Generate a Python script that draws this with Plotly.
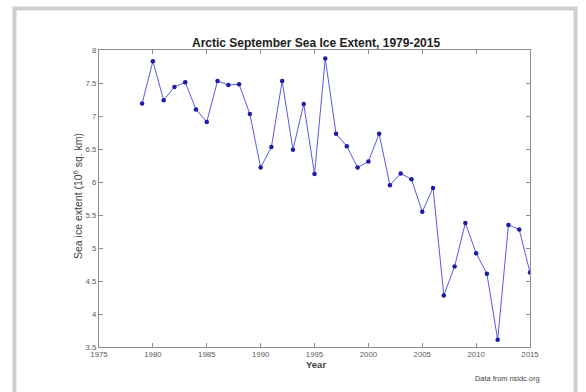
import plotly.graph_objects as go

# Arctic September sea ice extent (million sq. km)
years = list(range(1979, 2016))
extent = [7.19, 7.83, 7.24, 7.44, 7.51, 7.10, 6.91, 7.53, 7.47, 7.48,
          7.03, 6.22, 6.53, 7.53, 6.49, 7.18, 6.12, 7.87, 6.73, 6.54,
          6.22, 6.31, 6.73, 5.95, 6.13, 6.04, 5.55, 5.91, 4.28, 4.72,
          5.38, 4.92, 4.61, 3.61, 5.35, 5.28, 4.63]

x_ticks = [1975, 1980, 1985, 1990, 1995, 2000, 2005, 2010, 2015]
y_ticks = [3.5, 4, 4.5, 5, 5.5, 6, 6.5, 7, 7.5, 8]
y_ticklabels = ["3.5", "4", "4.5", "5", "5.5", "6", "6.5", "7", "7.5", "8"]

W, H = 586, 392
L, R, T, B = 99, 56, 50, 45
PW, PH = W - L - R, H - T - B


def px(x):
    return (x - L) / PW


def py(y):
    return (H - B - y) / PH


FONT = "Liberation Sans, Arial, Helvetica, sans-serif"

fig = go.Figure()
fig.add_trace(go.Scatter(
    x=years, y=extent, mode="lines+markers",
    line=dict(color="#5a5ae6", width=1),
    marker=dict(color="#1c1ca8", size=4.5),
    showlegend=False, hoverinfo="x+y",
))

axis_common = dict(
    showline=True, linecolor="#8c8c8c", linewidth=1, mirror="allticks",
    ticks="inside", ticklen=4, tickcolor="#8c8c8c", tickwidth=1,
    showgrid=False, zeroline=False,
    tickfont=dict(family=FONT, size=7.8, color="#5a5a5a"),
)

fig.update_layout(
    width=W, height=H,
    margin=dict(l=L, r=R, t=T, b=B, pad=0),
    paper_bgcolor="white", plot_bgcolor="white",
    xaxis=dict(range=[1975, 2015], tickvals=x_ticks,
               ticktext=[str(v) for v in x_ticks], **axis_common),
    yaxis=dict(range=[3.5, 8], tickvals=y_ticks, ticktext=y_ticklabels,
               **axis_common),
    shapes=[dict(type="rect", xref="paper", yref="paper",
                 x0=px(14.5), x1=px(575.5), y0=py(8.5), y1=py(430),
                 line=dict(color="#cfcfcf", width=4), layer="below")],
    annotations=[
        dict(text="<b>Arctic September Sea Ice Extent, 1979-2015</b>",
             xref="paper", yref="paper", x=px(316), y=py(43),
             xanchor="center", yanchor="middle", showarrow=False,
             font=dict(family=FONT, size=12, color="#222222")),
        dict(text="<b>Year</b>", xref="paper", yref="paper",
             x=px(316), y=py(364), xanchor="center", yanchor="middle",
             showarrow=False,
             font=dict(family=FONT, size=9.5, color="#444444")),
        dict(text="Sea ice extent (10<sup>6</sup> sq. km)",
             xref="paper", yref="paper", x=px(77), y=py(196),
             xanchor="center", yanchor="middle", textangle=-90,
             showarrow=False,
             font=dict(family=FONT, size=10.5, color="#444444")),
        dict(text="Data from nsidc.org", xref="paper", yref="paper",
             x=px(542), y=py(378), xanchor="right", yanchor="middle",
             showarrow=False,
             font=dict(family=FONT, size=7.4, color="#444444")),
    ],
)

fig.write_html("out.html")
